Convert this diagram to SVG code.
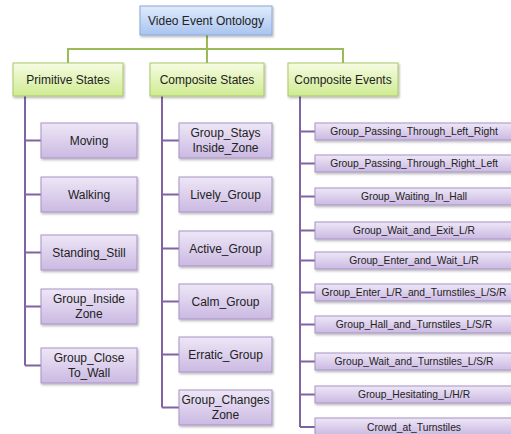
<svg xmlns="http://www.w3.org/2000/svg" width="511" height="434" viewBox="0 0 511 434">
<defs>
<linearGradient id="gBlue" x1="0" y1="0" x2="0" y2="1"><stop offset="0" stop-color="#e0ebfc"/><stop offset="1" stop-color="#a9c4f0"/></linearGradient>
<linearGradient id="gGreen" x1="0" y1="0" x2="0" y2="1"><stop offset="0" stop-color="#f6fce2"/><stop offset="1" stop-color="#cfeb92"/></linearGradient>
<linearGradient id="gPurple" x1="0" y1="0" x2="0" y2="1"><stop offset="0" stop-color="#eee7f7"/><stop offset="1" stop-color="#cbb9e2"/></linearGradient>
<filter id="sh" x="-10%" y="-20%" width="130%" height="160%"><feDropShadow dx="1" dy="1.5" stdDeviation="1" flood-color="#000" flood-opacity="0.3"/></filter>
</defs>
<style>
.root{fill:url(#gBlue);stroke:#8aa8d8;stroke-width:1;filter:url(#sh)}
.l1{fill:url(#gGreen);stroke:#a9c86a;stroke-width:1;filter:url(#sh)}
.l2{fill:url(#gPurple);stroke:#a793c6;stroke-width:1;filter:url(#sh)}
text{font-family:"Liberation Sans",Arial,sans-serif;fill:#222;text-anchor:middle;dominant-baseline:central}
.t12{font-size:12px}
.t10{font-size:10.3px}
.gl{stroke:#9bbb59;stroke-width:2;fill:none}
.pl{stroke:#8064a2;stroke-width:2;fill:none}
</style>
<rect width="511" height="434" fill="#fff"/>
<g id="connectors">
<path class="gl" d="M207 35V49M68 63V49H343V63M207 49V63"/>
<path class="pl" d="M25 96V365.5M25 140.5H41M25 194.5H41M25 252.5H41M25 306.5H41M25 365.5H41"/>
<path class="pl" d="M162 96V407.5M162 140.5H179M162 194.5H179M162 248.5H179M162 301.5H179M162 354.5H179M162 407.5H179"/>
<path class="pl" d="M300 96V427M300 131.5H315M300 163.5H315M300 196.5H315M300 230.5H315M300 260.5H315M300 292.5H315M300 324.5H315M300 361.5H315M300 394.5H315M300 427H315"/>
</g>
<g id="root"><rect class="root" x="140" y="6" width="132" height="29"/><text class="t12" x="206" y="21">Video Event Ontology</text></g>
<g id="primitive-states"><rect class="l1" x="13" y="63" width="110" height="33"/><text class="t12" x="68" y="79.5">Primitive States</text></g>
<g id="composite-states"><rect class="l1" x="150" y="63" width="114" height="33"/><text class="t12" x="207" y="79.5">Composite States</text></g>
<g id="composite-events"><rect class="l1" x="288" y="63" width="110" height="33"/><text class="t12" x="343" y="79.5">Composite Events</text></g>

<g id="moving"><rect class="l2" x="41" y="123" width="96" height="35"/><text class="t12" x="89" y="140.5">Moving</text></g>
<g id="walking"><rect class="l2" x="41" y="177" width="96" height="35"/><text class="t12" x="89" y="194.5">Walking</text></g>
<g id="standing-still"><rect class="l2" x="41" y="235" width="96" height="35"/><text class="t12" x="89" y="252.5">Standing_Still</text></g>
<g id="group-inside-zone"><rect class="l2" x="41" y="289" width="96" height="35"/><text class="t12" x="89" y="299">Group_Inside</text><text class="t12" x="89" y="314">Zone</text></g>
<g id="group-close-to-wall"><rect class="l2" x="41" y="348" width="96" height="35"/><text class="t12" x="89" y="358">Group_Close</text><text class="t12" x="89" y="373">To_Wall</text></g>

<g id="group-stays-inside-zone"><rect class="l2" x="179" y="123" width="93" height="35"/><text class="t12" x="225.5" y="133">Group_Stays</text><text class="t12" x="225.5" y="148">Inside_Zone</text></g>
<g id="lively-group"><rect class="l2" x="179" y="177" width="93" height="35"/><text class="t12" x="225.5" y="194.5">Lively_Group</text></g>
<g id="active-group"><rect class="l2" x="179" y="231" width="93" height="35"/><text class="t12" x="225.5" y="248.5">Active_Group</text></g>
<g id="calm-group"><rect class="l2" x="179" y="284" width="93" height="35"/><text class="t12" x="225.5" y="301.5">Calm_Group</text></g>
<g id="erratic-group"><rect class="l2" x="179" y="337" width="93" height="35"/><text class="t12" x="225.5" y="354.5">Erratic_Group</text></g>
<g id="group-changes-zone"><rect class="l2" x="179" y="390" width="93" height="35"/><text class="t12" x="225.5" y="400">Group_Changes</text><text class="t12" x="225.5" y="415">Zone</text></g>

<g id="ev1"><rect class="l2" x="315" y="123" width="197" height="17"/><text class="t10" x="414" y="131.5">Group_Passing_Through_Left_Right</text></g>
<g id="ev2"><rect class="l2" x="315" y="155" width="197" height="17"/><text class="t10" x="414" y="163.5">Group_Passing_Through_Right_Left</text></g>
<g id="ev3"><rect class="l2" x="315" y="188" width="197" height="17"/><text class="t10" x="414" y="196.5">Group_Waiting_In_Hall</text></g>
<g id="ev4"><rect class="l2" x="315" y="222" width="197" height="17"/><text class="t10" x="414" y="230.5">Group_Wait_and_Exit_L/R</text></g>
<g id="ev5"><rect class="l2" x="315" y="252" width="197" height="17"/><text class="t10" x="414" y="260.5">Group_Enter_and_Wait_L/R</text></g>
<g id="ev6"><rect class="l2" x="315" y="284" width="197" height="17"/><text class="t10" x="414" y="292.5">Group_Enter_L/R_and_Turnstiles_L/S/R</text></g>
<g id="ev7"><rect class="l2" x="315" y="316" width="197" height="17"/><text class="t10" x="414" y="324.5">Group_Hall_and_Turnstiles_L/S/R</text></g>
<g id="ev8"><rect class="l2" x="315" y="353" width="197" height="17"/><text class="t10" x="414" y="361.5">Group_Wait_and_Turnstiles_L/S/R</text></g>
<g id="ev9"><rect class="l2" x="315" y="386" width="197" height="17"/><text class="t10" x="414" y="394.5">Group_Hesitating_L/H/R</text></g>
<g id="ev10"><rect class="l2" x="315" y="418" width="197" height="17"/><text class="t10" x="414" y="427">Crowd_at_Turnstiles</text></g>
</svg>
